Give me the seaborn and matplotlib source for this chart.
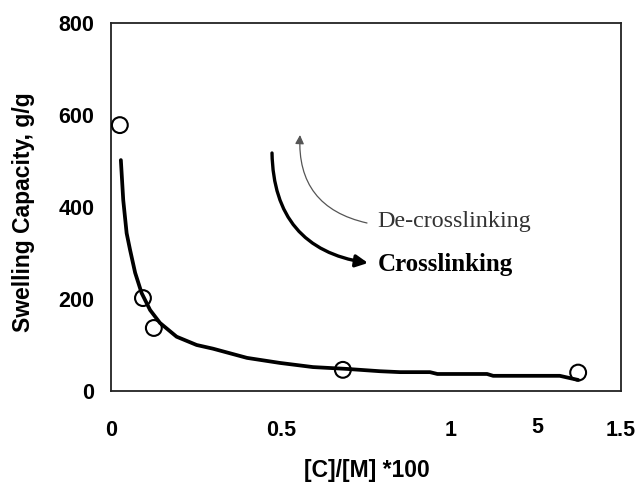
import matplotlib
matplotlib.use("Agg")
import matplotlib.pyplot as plt
import seaborn as sns
import pandas as pd

# Measured swelling capacity vs. crosslinker ratio
ratio_pts = [0.026, 0.094, 0.126, 0.682, 1.374]
swelling_pts = [578, 202, 137, 46, 40]

# Fitted trend curve
ratio_fit = [0.029, 0.036, 0.046, 0.056, 0.071, 0.090, 0.115, 0.144, 0.193,
             0.252, 0.30, 0.40, 0.497, 0.594, 0.694, 0.791, 0.85, 0.938,
             0.96, 1.106, 1.124, 1.32, 1.35, 1.374]
swelling_fit = [502, 415, 343, 307, 257, 213, 176, 148, 118,
                100, 92, 72, 61, 52, 48, 43, 41, 41,
                37, 37, 33, 33, 28, 24]

xtick_vals = [0, 0.5, 1, 1.5]
xtick_labels = ["0", "0.5", "1", "1.5"]
ytick_vals = [0, 200, 400, 600, 800]

sns.set_style("white")
plt.rcParams["font.family"] = ["Liberation Sans", "DejaVu Sans"]
plt.rcParams["text.color"] = "black"
plt.rcParams["xtick.color"] = "black"
plt.rcParams["ytick.color"] = "black"
plt.rcParams["axes.labelcolor"] = "black"

W, H = 640, 482
fig = plt.figure(figsize=(W / 100, H / 100), dpi=100)
ax = fig.add_axes([111 / W, (H - 391) / H, 510 / W, 368 / H])

fit_df = pd.DataFrame({"ratio": ratio_fit, "swelling": swelling_fit})
pts_df = pd.DataFrame({"ratio": ratio_pts, "swelling": swelling_pts})

sns.lineplot(data=fit_df, x="ratio", y="swelling", ax=ax, color="black",
             linewidth=2.7, sort=False, estimator=None)
sns.scatterplot(data=pts_df, x="ratio", y="swelling", ax=ax, marker="o",
                s=130, facecolor="none", edgecolor="black", linewidth=1.5,
                zorder=5)

ax.set_xlim(0, 1.5)
ax.set_ylim(0, 800)
ax.set_xticks(xtick_vals)
ax.set_xticklabels(xtick_labels)
ax.set_yticks(ytick_vals)
ax.tick_params(axis="both", which="major", direction="out", length=4,
               width=0.8, color="#999999", labelsize=15.5)
ax.tick_params(axis="x", pad=17)
ax.tick_params(axis="y", pad=8)
for lab in ax.get_xticklabels() + ax.get_yticklabels():
    lab.set_fontweight("bold")

# stray axis label between 1 and 1.5
ax.text(1.253, -0.098, "5", transform=ax.get_xaxis_transform(),
        ha="center", va="center", fontsize=15.5, fontweight="bold")

for side in ["left", "bottom", "top", "right"]:
    ax.spines[side].set_visible(True)
    ax.spines[side].set_color("#222222")
    ax.spines[side].set_linewidth(1.3)

ax.set_xlabel("[C]/[M] *100", fontsize=16.5, fontweight="bold", va="center")
ax.set_ylabel("Swelling Capacity, g/g", fontsize=16.5, fontweight="bold",
              va="center")
ax.xaxis.set_label_coords(0.501, -0.217)
ax.yaxis.set_label_coords(-0.172, 0.486)


def px(x, y):
    return (x, H - y)


# crosslinking arrow (thick, downward)
ax.annotate("", xy=px(368, 263), xytext=px(272, 153),
            xycoords="figure pixels", textcoords="figure pixels",
            arrowprops=dict(arrowstyle="-|>", color="black", lw=2.4,
                            mutation_scale=18, shrinkA=0, shrinkB=0,
                            connectionstyle="arc3,rad=0.42"))
# de-crosslinking arrow (thin, upward)
ax.annotate("", xy=px(300, 135), xytext=px(367, 223),
            xycoords="figure pixels", textcoords="figure pixels",
            arrowprops=dict(arrowstyle="-|>", color="#555555", lw=0.9,
                            mutation_scale=13, shrinkA=0, shrinkB=0,
                            connectionstyle="arc3,rad=-0.42"))

fig.text(377 / W, 1 - 222 / H, "De-crosslinking", family="Liberation Serif",
         fontsize=17.3, color="#333333", ha="left", va="center")
fig.text(378 / W, 1 - 264 / H, "Crosslinking", family="Liberation Serif",
         fontsize=18, fontweight="bold", color="black", ha="left",
         va="center")

fig.savefig("out.png", dpi=100)
